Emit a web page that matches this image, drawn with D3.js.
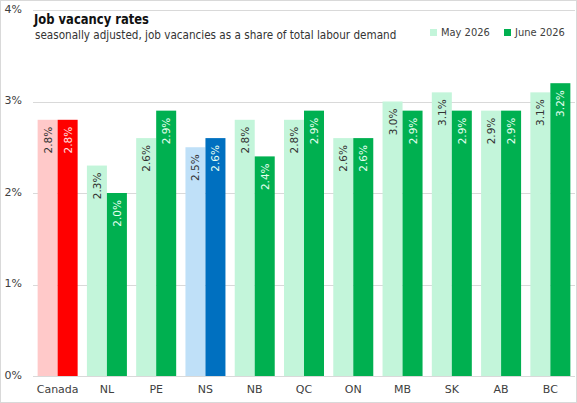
<!DOCTYPE html>
<html><head><meta charset="utf-8">
<script src="https://cdn.jsdelivr.net/npm/d3@7"></script>
<style>
html,body{margin:0;padding:0;background:#fff;}
text{font-family:"DejaVu Sans",sans-serif;}
.cond{font-family:"DejaVu Sans Condensed","DejaVu Sans",sans-serif;font-stretch:condensed;}
</style></head>
<body><svg id="c" width="577" height="403"></svg>
<script>
const categories = ["Canada","NL","PE","NS","NB","QC","ON","MB","SK","AB","BC"];
const may2026 = [2.8,2.3,2.6,2.5,2.8,2.8,2.6,3.0,3.1,2.9,3.1];
const june2026 = [2.8,2.0,2.9,2.6,2.4,2.9,2.6,2.9,2.9,2.9,3.2];
const yTicks = [0,1,2,3,4];
const seriesNames = ["May 2026","June 2026"];

const svg = d3.select("#c");
const W=577,H=403;
svg.append("rect").attr("x",0.5).attr("y",0.5).attr("width",W-1).attr("height",H-1)
  .attr("fill","#fff").attr("stroke","#d9d9d9");

const m={l:33,r:2,t:10,b:27};
const x=d3.scaleBand().domain(categories).range([m.l,W-m.r]).padding(0);
const y=d3.scaleLinear().domain([0,4]).range([H-m.b,m.t]);

// gridlines
svg.append("g").selectAll("line").data(yTicks.slice(1)).join("line")
  .attr("x1",m.l).attr("x2",W-m.r).attr("y1",d=>Math.round(y(d))+0.5).attr("y2",d=>Math.round(y(d))+0.5)
  .attr("stroke","#d9d9d9").attr("stroke-width",1);

// y axis labels
const yAxis=d3.axisLeft(y).tickValues(yTicks).tickFormat(d=>d+"%").tickSize(0).tickPadding(11);
const ya=svg.append("g").attr("transform",`translate(${m.l},0)`).call(yAxis);
ya.select(".domain").remove();
ya.selectAll("text").attr("font-size",11).attr("fill","#404040").attr("dy","0.2em");

function colors(cat,i){
  if(cat==="Canada") return i===0?"#ffc9c9":"#ff0000";
  if(cat==="NS") return i===0?"#bfe0f8":"#0070c0";
  return i===0?"#c3f5da":"#00b050";
}
const bw=20;
const data=[];
categories.forEach((c,k)=>{
  data.push({c,i:0,v:may2026[k]});
  data.push({c,i:1,v:june2026[k]});
});
svg.append("g").selectAll("rect").data(data).join("rect")
  .attr("x",d=>x(d.c)+x.bandwidth()/2+(d.i===0?-bw:0))
  .attr("width",bw)
  .attr("y",d=>y(d.v)).attr("height",d=>y(0)-y(d.v))
  .attr("fill",d=>colors(d.c,d.i));

svg.append("g").selectAll("text").data(data).join("text")
  .attr("transform",d=>`translate(${x(d.c)+x.bandwidth()/2+(d.i===0?-bw/2:bw/2)+4},${y(d.v)+7}) rotate(-90)`)
  .attr("text-anchor","end")
  .attr("font-size",10.5)
  .attr("fill",d=>d.i===0?"#333":(d.c==="Canada"?"#ffe0e0":"#e6fff0"))
  .text(d=>d.v.toFixed(1)+"%");

// x axis
svg.append("line").attr("x1",m.l).attr("x2",W-m.r).attr("y1",y(0)+0.5).attr("y2",y(0)+0.5).attr("stroke","#d9d9d9");
const xAxis=d3.axisBottom(x).tickSize(0).tickPadding(9);
const xa=svg.append("g").attr("transform",`translate(0,${y(0)})`).call(xAxis);
xa.select(".domain").remove();
xa.selectAll("text").attr("font-size",11).attr("fill","#404040");

// title
svg.append("text").attr("class","cond").attr("x",34).attr("y",24).attr("font-size",14.5).attr("font-weight","bold").attr("fill","#111")
  .attr("textLength",115).attr("lengthAdjust","spacingAndGlyphs").text("Job vacancy rates");
svg.append("text").attr("class","cond").attr("x",35).attr("y",39).attr("font-size",11.6).attr("fill","#333")
  .text("seasonally adjusted, job vacancies  as a share of total labour demand");

// legend
const lg=[{n:seriesNames[0],c:"#c3f5da",x:430},{n:seriesNames[1],c:"#00b050",x:504}];
const g=svg.append("g").selectAll("g").data(lg).join("g");
g.append("rect").attr("x",d=>d.x).attr("y",29).attr("width",7).attr("height",7).attr("fill",d=>d.c);
g.append("text").attr("class","cond").attr("x",d=>d.x+11).attr("y",36).attr("font-size",11).attr("fill","#404040").text(d=>d.n);
</script></body></html>
